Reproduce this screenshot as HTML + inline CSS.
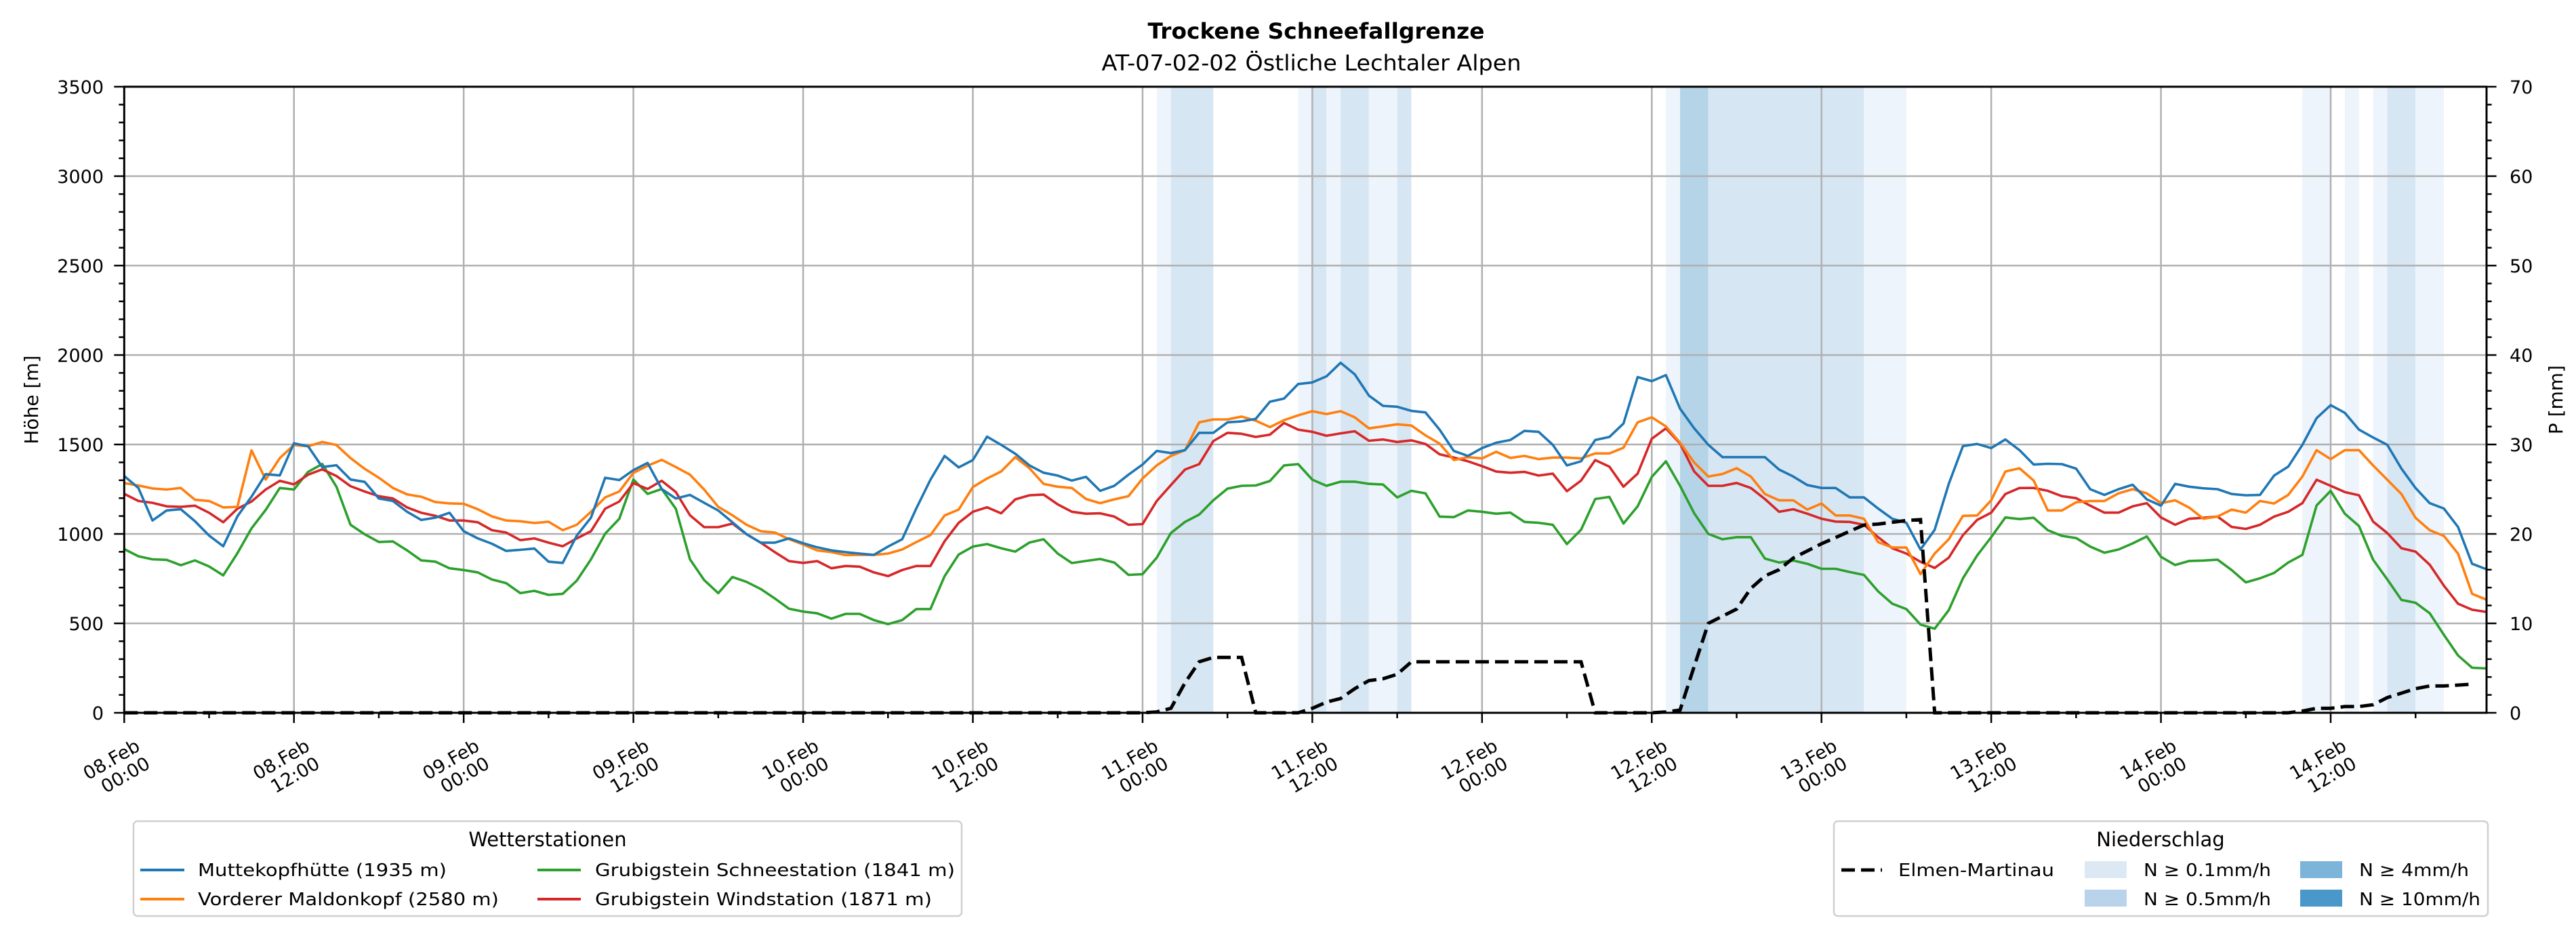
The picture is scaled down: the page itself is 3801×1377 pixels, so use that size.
<!DOCTYPE html>
<html><head><meta charset="utf-8"><style>
html,body{margin:0;padding:0;background:#fff}
svg{display:block;font-family:"DejaVu Sans","Liberation Sans",sans-serif}
</style></head><body>
<svg id="chart" width="3801" height="1377" viewBox="0 0 3801 1377" xmlns="http://www.w3.org/2000/svg">
<rect width="3801" height="1377" fill="#fff"/>
<text x="1942" y="57" text-anchor="middle" font-size="32" font-weight="bold" textLength="497" lengthAdjust="spacingAndGlyphs">Trockene Schneefallgrenze</text>
<text x="1935" y="104" text-anchor="middle" font-size="32" textLength="619" lengthAdjust="spacingAndGlyphs">AT-07-02-02 Östliche Lechtaler Alpen</text>
<g id="bands"></g>
<g id="grid"></g>
<g id="series"></g>
<g id="precip"></g>
<rect x="183.3" y="128" width="3485.7" height="924" fill="none" stroke="#000" stroke-width="3"/>
<g id="axes"></g>
<text transform="translate(56,590) rotate(-90)" text-anchor="middle" font-size="28">Höhe [m]</text>
<text transform="translate(3781,590) rotate(-90)" text-anchor="middle" font-size="28">P [mm]</text>

<g>
<rect x="197" y="1212" width="1222" height="140" rx="6" fill="#fff" stroke="#d0d0d0" stroke-width="2.5"/>
<text x="808" y="1249" text-anchor="middle" font-size="29">Wetterstationen</text>
<g><line x1="207" y1="1284" x2="272" y2="1284" stroke="#1f77b4" stroke-width="4"/><text x="292" y="1293" font-size="26" textLength="367" lengthAdjust="spacingAndGlyphs">Muttekopfhütte (1935 m)</text></g>
<g><line x1="207" y1="1327" x2="272" y2="1327" stroke="#ff7f0e" stroke-width="4"/><text x="292" y="1336" font-size="26" textLength="444" lengthAdjust="spacingAndGlyphs">Vorderer Maldonkopf (2580 m)</text></g>
<g><line x1="793" y1="1284" x2="857" y2="1284" stroke="#2ca02c" stroke-width="4"/><text x="878" y="1293" font-size="26" textLength="531" lengthAdjust="spacingAndGlyphs">Grubigstein Schneestation (1841 m)</text></g>
<g><line x1="793" y1="1327" x2="857" y2="1327" stroke="#d62728" stroke-width="4"/><text x="878" y="1336" font-size="26" textLength="497" lengthAdjust="spacingAndGlyphs">Grubigstein Windstation (1871 m)</text></g>
</g>

<g>
<rect x="2706" y="1212" width="965" height="140" rx="6" fill="#fff" stroke="#d0d0d0" stroke-width="2.5"/>
<text x="3188" y="1249" text-anchor="middle" font-size="29">Niederschlag</text>
<g><line x1="2717" y1="1284" x2="2777" y2="1284" stroke="#000" stroke-width="5" stroke-dasharray="20,9"/><text x="2801" y="1293" font-size="26" textLength="230" lengthAdjust="spacingAndGlyphs">Elmen-Martinau</text></g>
<g><rect x="3076" y="1271" width="62" height="25" fill="#dce9f5"/><text x="3163" y="1293" font-size="26" textLength="188" lengthAdjust="spacingAndGlyphs">N ≥ 0.1mm/h</text></g>
<g><rect x="3076" y="1313" width="62" height="25" fill="#b9d4ea"/><text x="3163" y="1336" font-size="26" textLength="188" lengthAdjust="spacingAndGlyphs">N ≥ 0.5mm/h</text></g>
<g><rect x="3394" y="1271" width="62" height="25" fill="#7db5da"/><text x="3481" y="1293" font-size="26" textLength="162" lengthAdjust="spacingAndGlyphs">N ≥ 4mm/h</text></g>
<g><rect x="3394" y="1313" width="62" height="25" fill="#4a98c9"/><text x="3481" y="1336" font-size="26" textLength="179" lengthAdjust="spacingAndGlyphs">N ≥ 10mm/h</text></g>
</g>
</svg>
<script>
const muttekopf = [1324,1257,1075,1131,1138,1071,991,931,1098,1208,1334,1327,1507,1490,1374,1384,1304,1291,1198,1184,1124,1078,1091,1118,1015,975,945,905,911,918,845,838,991,1091,1314,1301,1357,1397,1251,1198,1218,1174,1131,1065,998,951,951,975,948,925,908,898,890,883,
929,970,1142,1303,1436,1372,1413,1544,1498,1448,1383,1342,1326,1298,1319,1241,1269,1331,1388,
1464,1452,1468,1565,1565,1624,1629,1643,1739,1757,1838,1847,1881,1957,1892,1773,1716,1711,1688,1679,1583,
1464,1436,1480,1510,1525,1576,1571,1498,1383,1406,1525,1542,1617,1877,1854,1888,1700,1590,
1498,1429,1429,1429,1429,1360,1321,1273,1257,1257,1204,1204,1142,1085,1062,913,1023,1280,
1491,1503,1480,1528,1468,1388,1392,1390,1365,1250,1218,1250,1275,1193,1158,1280,1264,1255,1250,1223,1216,1218,1326,1376,
1498,1647,1720,1677,1583,1539,1498,1365,1257,1172,1142,1039,833,803];
const maldonkopf = [1284,1271,1254,1248,1257,1191,1184,1148,1151,1467,1304,1424,1497,1490,1514,1497,1424,1364,1314,1257,1221,1208,1178,1171,1168,1138,1098,1075,1071,1061,1068,1021,1051,1124,1204,1237,1341,1381,1414,1374,1331,1248,1151,1104,1051,1015,1008,971,941,908,898,882,883,883,
890,913,954,993,1103,1136,1262,1310,1349,1429,1367,1280,1264,1257,1195,1172,1193,1211,1310,
1383,1436,1468,1624,1640,1640,1656,1633,1597,1636,1663,1686,1670,1686,1652,1590,1601,1613,1606,1551,1505,
1413,1429,1422,1459,1425,1436,1418,1427,1427,1422,1450,1450,1482,1624,1652,1601,1510,1399,
1321,1335,1367,1321,1223,1188,1188,1136,1170,1103,1103,1085,954,924,924,775,890,970,
1101,1103,1188,1349,1367,1298,1131,1131,1177,1184,1184,1227,1250,1227,1172,1188,1147,1085,1097,1136,1119,1184,1170,1218,
1321,1468,1418,1468,1468,1383,1303,1223,1090,1021,989,890,665,633];
const schneestation = [915,875,858,855,825,852,818,768,892,1031,1134,1257,1248,1347,1391,1264,1051,998,955,958,908,852,845,808,798,785,745,725,669,682,659,665,739,858,1001,1085,1304,1224,1251,1141,858,742,669,759,732,692,639,582,566,556,526,553,553,518,
496,518,580,580,764,885,929,943,920,901,952,970,890,837,849,860,840,771,775,
867,1005,1067,1108,1188,1253,1269,1271,1296,1383,1390,1303,1269,1292,1292,1280,1276,1204,1241,1227,1097,
1094,1131,1124,1113,1119,1067,1062,1051,943,1023,1195,1207,1058,1154,1319,1406,1269,1115,
1000,970,982,982,862,840,851,833,805,805,787,771,679,610,580,493,470,574,
752,879,982,1092,1083,1090,1021,989,977,929,895,913,947,986,872,826,849,851,856,798,729,752,782,840,
883,1159,1241,1113,1044,856,746,631,615,557,436,321,252,248];
const windstation = [1224,1184,1174,1154,1151,1158,1118,1065,1141,1181,1248,1297,1277,1331,1361,1324,1267,1237,1211,1198,1148,1118,1101,1075,1075,1065,1021,1008,965,975,951,931,975,1015,1141,1181,1284,1251,1297,1234,1104,1038,1038,1058,998,951,898,848,838,848,808,821,817,785,
764,798,821,821,959,1062,1124,1149,1115,1193,1216,1220,1165,1124,1113,1115,1097,1051,1055,
1184,1273,1360,1390,1519,1565,1560,1542,1555,1620,1583,1571,1549,1562,1574,1521,1528,1514,1523,1503,1445,
1427,1406,1379,1349,1342,1347,1326,1337,1239,1298,1413,1376,1264,1337,1532,1590,1505,1349,
1269,1269,1285,1257,1195,1124,1138,1113,1085,1069,1067,1051,982,920,890,844,810,867,
993,1078,1119,1223,1257,1257,1241,1211,1200,1158,1119,1119,1154,1172,1092,1051,1085,1090,1097,1039,1028,1051,1097,1124,
1172,1303,1269,1234,1216,1069,1005,920,901,828,711,610,576,564];
const elmenPrecip = [0,0,0,0,0,0,0,0,0,0,0,0,0,0,0,0,0,0,0,0,0,0,0,0,0,0,0,0,0,0,0,0,0,0,0,0,0,0,0,0,0,0,0,0,0,0,0,0,0,0,0,0,0,0,0,0,0,0,0,0,0,0,0,0,0,0,0,0,0,0,0,0,0,
0.1,0.5,3.35,5.7,6.2,6.2,6.2,0,0,0,0,0.5,1.2,1.6,2.7,3.6,3.8,4.3,5.7,5.7,5.7,5.7,5.7,5.7,5.7,5.7,5.7,5.7,5.7,5.7,5.7,0,0,0,0,0,0.1,0.3,5.2,10.0,10.8,11.6,13.9,15.3,16.0,17.3,18.1,18.9,19.6,20.3,21.0,21.1,21.3,21.5,21.6,
0,0,0,0,0,0,0,0,0,0,0,0,0,0,0,0,0,0,0,0,0,0,0,0,0,0,0.2,0.5,0.5,0.7,0.7,0.9,1.7,2.2,2.7,3.0,3.0,3.1,3.2];
const bandStart = [73,74,83,84,85,86,88,90,109,110,112,123,154,157,159,160,162];
const bandEnd   = [74,77,84,85,86,88,90,91,110,112,123,126,156,158,160,162,164];
const bandLevel = [1,2,1,2,1,2,1,2,1,3,2,1,1,1,1,2,1];
const xTickDays = ["08.Feb","08.Feb","09.Feb","09.Feb","10.Feb","10.Feb","11.Feb","11.Feb","12.Feb","12.Feb","13.Feb","13.Feb","14.Feb","14.Feb"];
const xTickTimes = ["00:00","12:00","00:00","12:00","00:00","12:00","00:00","12:00","00:00","12:00","00:00","12:00","00:00","12:00"];
const yTicks = [0,500,1000,1500,2000,2500,3000,3500];
const y2Ticks = [0,10,20,30,40,50,60,70];

const NS = "http://www.w3.org/2000/svg";
const X0 = 183.3, HW = 20.87, XMAX = 167, YB = 1052, YT = 128;
const xs = h => X0 + h * HW;
const ys = v => YB - v * (YB - YT) / 3500;
const ys2 = v => YB - v * (YB - YT) / 70;
function mk(tag, parent, attrs) {
  const e = document.createElementNS(NS, tag);
  for (const k in attrs) e.setAttribute(k, attrs[k]);
  parent.appendChild(e);
  return e;
}
const bandColors = ["", "#eef4fb", "#d7e6f3", "#b5d4e8"];
const gB = document.getElementById("bands");
for (let i = 0; i < bandStart.length; i++) {
  const r = mk("rect", gB, {x: xs(bandStart[i]), y: YT, width: xs(bandEnd[i]) - xs(bandStart[i]), height: YB - YT, fill: bandColors[bandLevel[i]]});
  
  
}
const gG = document.getElementById("grid");
yTicks.forEach(v => {
  const l = mk("line", gG, {x1: X0, x2: xs(XMAX), y1: ys(v), y2: ys(v), stroke: "#b0b0b0", "stroke-width": 2.5});
  
  
});
xTickDays.forEach((d, i) => {
  const l = mk("line", gG, {x1: xs(i * 12), x2: xs(i * 12), y1: YT, y2: YB, stroke: "#b0b0b0", "stroke-width": 2.5});
  
  
});
const gS = document.getElementById("series");
const seriesData = [muttekopf, maldonkopf, schneestation, windstation];
const seriesColors = ["#1f77b4", "#ff7f0e", "#2ca02c", "#d62728"];
const seriesNames = ["muttekopf-line", "maldonkopf-line", "schneestation-line", "windstation-line"];
[2, 3, 1, 0].forEach(si => {
  const pts = seriesData[si].map((v, h) => xs(h).toFixed(1) + "," + ys(v).toFixed(1)).join(" ");
  const p = mk("polyline", gS, {points: pts, fill: "none", stroke: seriesColors[si], "stroke-width": 3.6, "stroke-linejoin": "round"});
  
  
});
const gP = document.getElementById("precip");
const pp = mk("polyline", gP, {points: elmenPrecip.map((v, h) => xs(h).toFixed(1) + "," + ys2(v).toFixed(1)).join(" "), fill: "none", stroke: "#000", "stroke-width": 5, "stroke-dasharray": "20,9"});



const gA = document.getElementById("axes");
for (let v = 0; v <= 3500; v += 100) {
  const major = v % 500 === 0;
  const t = mk("line", gA, {x1: X0 - (major ? 15 : 8), x2: X0, y1: ys(v), y2: ys(v), stroke: "#000", "stroke-width": 2.5});
  
  
}
yTicks.forEach(v => {
  const t = mk("text", gA, {x: 153, y: ys(v) + 10, "text-anchor": "end", "font-size": 27});
  t.textContent = v;
  
  
});
for (let v = 0; v <= 70; v += 2) {
  const major = v % 10 === 0;
  const t = mk("line", gA, {x1: xs(XMAX), x2: xs(XMAX) + (major ? 15 : 8), y1: ys2(v), y2: ys2(v), stroke: "#000", "stroke-width": 2.5});
  
  
}
y2Ticks.forEach(v => {
  const t = mk("text", gA, {x: 3703, y: ys2(v) + 10, "font-size": 27});
  t.textContent = v;
  
  
});
for (let h = 0; h <= XMAX; h += 6) {
  const major = h % 12 === 0;
  const t = mk("line", gA, {x1: xs(h), x2: xs(h), y1: YB, y2: YB + (major ? 15 : 8), stroke: "#000", "stroke-width": 2.5});
  
  
}
xTickDays.forEach((d, i) => {
  const g = mk("g", gA, {transform: "translate(" + (xs(i * 12) + 22) + ",1085) rotate(-30)"});
  
  
  const t1 = mk("text", g, {x: -8, y: 20, "text-anchor": "end", "font-size": 27});
  t1.textContent = d;
  const t2 = mk("text", g, {x: -8, y: 50, "text-anchor": "end", "font-size": 27});
  t2.textContent = xTickTimes[i];
});
</script>
</body></html>
